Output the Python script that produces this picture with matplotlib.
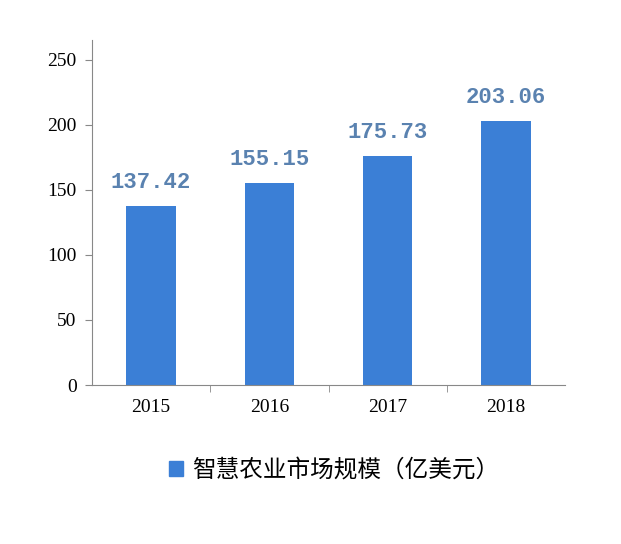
import matplotlib
matplotlib.use('Agg')
import matplotlib.pyplot as plt
from matplotlib.patches import Patch

years = ['2015', '2016', '2017', '2018']
values = [137.42, 155.15, 175.73, 203.06]
series_name = '智慧农业市场规模（亿美元）'
bar_color = '#3b7fd6'
label_color = '#5a82b0'

fig = plt.figure(figsize=(6.21, 5.44), dpi=100)
ax = fig.add_axes([92 / 621, 1 - 385 / 544, (565 - 92) / 621, (385 - 40) / 544])

x = range(len(years))
ax.bar(x, values, width=0.42, color=bar_color)
for i, v in zip(x, values):
    ax.text(i, v + 10, f'{v:.2f}', ha='center', va='bottom', fontsize=16,
            fontweight='bold', color=label_color, family='Liberation Mono')

ax.set_xlim(-0.5, 3.5)
ax.set_ylim(0, 265)
ax.set_yticks([0, 50, 100, 150, 200, 250])
ax.set_xticks(list(x))
ax.set_xticklabels(years)
ax.set_xticks([0.5, 1.5, 2.5], minor=True)
ax.tick_params(axis='x', which='major', length=0, pad=10)
ax.tick_params(axis='x', which='minor', length=5, color='#888888')
ax.tick_params(axis='y', length=5, color='#888888', pad=6)
for lab in ax.get_xticklabels() + ax.get_yticklabels():
    lab.set_family('Liberation Serif')
    lab.set_fontsize(14)
for s in ['top', 'right']:
    ax.spines[s].set_visible(False)
for s in ['left', 'bottom']:
    ax.spines[s].set_color('#888888')

fig.legend(handles=[Patch(color=bar_color)], labels=[series_name],
           loc='center', bbox_to_anchor=(334 / 621, 1 - 470 / 544), frameon=False,
           handlelength=0.6, handleheight=0.6, handletextpad=0.4,
           prop={'family': ['Noto Sans CJK SC', 'DejaVu Sans'], 'size': 17})

fig.savefig('out.png', dpi=100)
